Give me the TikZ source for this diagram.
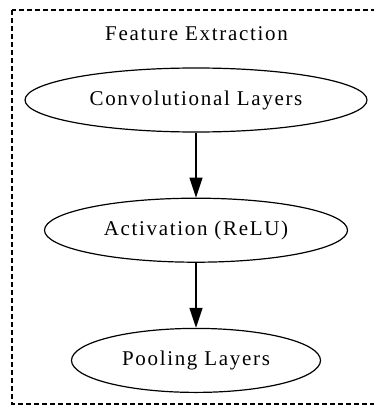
\documentclass[tikz,border=0pt]{standalone}
\usepackage{fontspec}
\setmainfont{Liberation Serif}
\usepackage{tikz}
\usetikzlibrary{positioning}
\usetikzlibrary{shapes.geometric}
\usetikzlibrary{arrows.meta}
\tikzset{edge/.style = {-{Triangle[length=20pt,width=13pt]}, line width=1.5pt}}

\begin{document}
\begin{tikzpicture}[x=1pt,y=1pt,node distance=65pt,main node/.style={ellipse,draw,line width=1.2pt,inner sep=0pt,minimum height=64pt,font=\fontsize{21}{25}\selectfont\addfontfeatures{LetterSpace=8}}]
            \useasboundingbox (0,0) rectangle (373,-406);
            \draw[dash pattern=on 5pt off 3pt, line width=1.2pt] (12,-10) rectangle (376,-404);
            \node (title) at (196.5,-34) [font=\fontsize{21}{25}\selectfont\addfontfeatures{LetterSpace=8}] {Feature Extraction};
            \node[main node, minimum width=342pt] (conv) at (196,-100) {Convolutional Layers};
            \node[main node, minimum width=303pt] (relu) [below=of conv] {Activation (ReLU)};
            \node[main node, minimum width=249pt] (pool) [below=of relu] {Pooling Layers};

            \path (conv) edge[edge] (relu);
            \path (relu) edge[edge] (pool);
        \end{tikzpicture}
\end{document}
